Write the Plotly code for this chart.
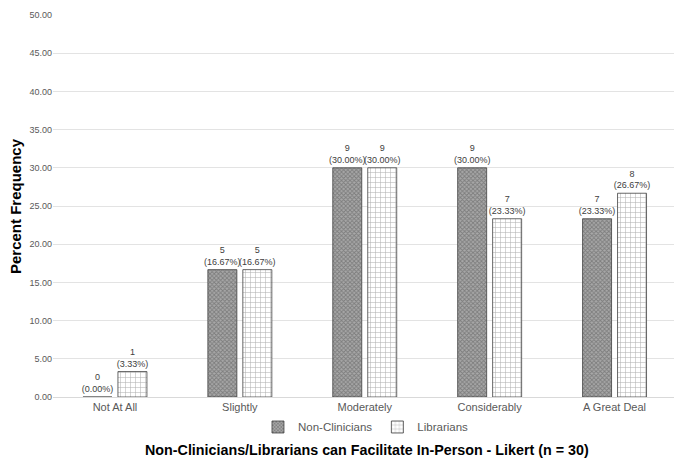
import plotly.graph_objects as go

categories = ["Not At All", "Slightly", "Moderately", "Considerably", "A Great Deal"]
non_clin_counts = [0, 5, 9, 9, 7]
non_clin_pct = [0.00, 16.67, 30.00, 30.00, 23.33]
lib_counts = [1, 5, 9, 7, 8]
lib_pct = [3.33, 16.67, 30.00, 23.33, 26.67]
y_ticks = [0, 5, 10, 15, 20, 25, 30, 35, 40, 45, 50]

FONT = "Arial, Liberation Sans, sans-serif"

def labels(counts, pcts):
    return [f"{c}<br>({p:.2f}%)" for c, p in zip(counts, pcts)]

fig = go.Figure()
fig.add_trace(go.Bar(
    name="Non-Clinicians", x=categories, y=non_clin_pct,
    text=labels(non_clin_counts, non_clin_pct), textposition="outside",
    constraintext="none",
    textfont=dict(size=9, color="#404040", family=FONT), cliponaxis=False,
    marker=dict(color="#9a9a9a", line=dict(color="#404040", width=0.8),
                pattern=dict(shape="x", fgcolor="#505050", bgcolor="#a8a8a8", size=3, solidity=0.5)),
))
fig.add_trace(go.Bar(
    name="Librarians", x=categories, y=lib_pct,
    text=labels(lib_counts, lib_pct), textposition="outside",
    constraintext="none",
    textfont=dict(size=9, color="#404040", family=FONT), cliponaxis=False,
    marker=dict(color="white", line=dict(color="#404040", width=0.8),
                pattern=dict(shape="+", fgcolor="#606060", bgcolor="white", size=5, solidity=0.2)),
))

fig.update_layout(
    width=674, height=458,
    margin=dict(l=53, r=0, t=15, b=61, autoexpand=False),
    paper_bgcolor="white", plot_bgcolor="white",
    font=dict(family=FONT, size=11, color="#595959"),
    barmode="group", bargap=0.44, bargroupgap=0.171,
    showlegend=True,
    legend=dict(orientation="h", x=0.504, xanchor="center", y=-0.0785, yanchor="middle",
                font=dict(size=11.5, color="#595959"), itemwidth=30, tracegroupgap=0,
                bgcolor="rgba(0,0,0,0)"),
    xaxis=dict(showgrid=False, showline=True, linecolor="#d9d9d9", ticks="",
               tickfont=dict(size=11, color="#595959"), range=[-0.496, 4.476], automargin=False),
    yaxis=dict(range=[0, 50], tickvals=y_ticks, tickformat=".2f", showgrid=True,
               gridcolor="#e3e3e3", gridwidth=1, zeroline=False, showline=False,
               tickfont=dict(size=9, color="#595959"), ticks="", automargin=False),
    annotations=[
        dict(text="<b>Non-Clinicians/Librarians can Facilitate In-Person - Likert (n = 30)</b>",
             xref="paper", yref="paper", x=0.5064, y=-0.139, xanchor="center", yanchor="middle",
             showarrow=False, font=dict(size=14.3, color="#000000", family=FONT)),
        dict(text="<b>Percent Frequency</b>", textangle=-90,
             xref="paper", yref="paper", x=-0.0612, y=0.5, xanchor="center", yanchor="middle",
             showarrow=False, font=dict(size=15, color="#000000", family=FONT)),
    ],
)

fig.write_html("out.html", config={"displayModeBar": False},
               post_script="document.body.style.margin='0px';")
